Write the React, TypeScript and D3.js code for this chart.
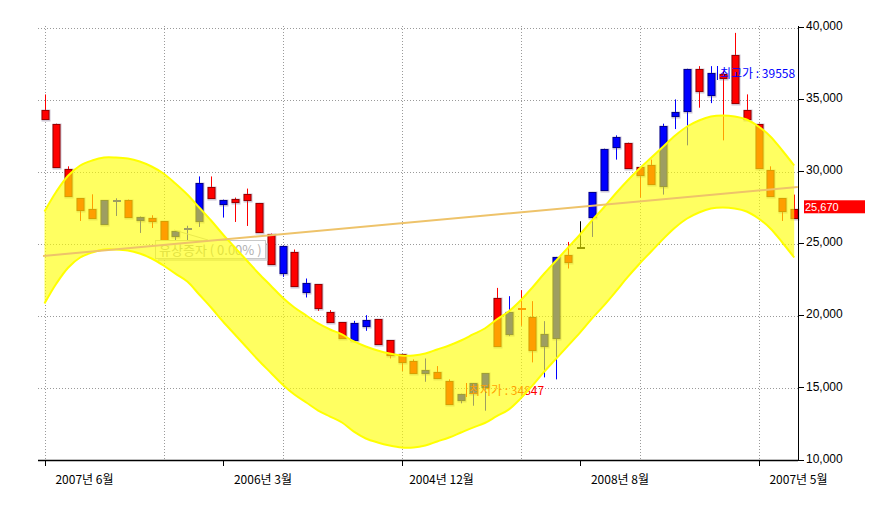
import React from "react";
import * as d3 from "d3";

// ---- data ----
const opens = [33564,30243,28236,27267,26762,27959,27990,26804,26832,26555,
  25240,25835,26050,29155,28146,28007,27820,27959,25766,23579,
  24825,22008,22263,20465,19496,18430,19468,19654,17973,17232,
  16770,16008,16217,15641,13820,14514,15275,15967,17877,20187,
  20420,17578,18665,24036,23690,24728,28534,31537,32339,30222,
  29689,29115,33101,34070,37073,35523,36768,36450,34692,33613,
  30222,28236,27218,26762];
const highs = [35294,33269,30312,28098,28374,27959,28098,28007,26832,26922,
  26527,25835,26195,29612,29612,28007,28146,28770,27774,25655,
  24825,24548,22540,22146,20347,19496,19607,20000,19724,18271,
  17281,16936,17000,16472,15552,14555,15275,15967,21889,21316,
  21731,20970,19586,24036,25074,26506,28534,31537,32457,31952,
  30263,30775,33267,34948,37073,37253,37253,36955,39558,35297,
  33267,30312,28118,28354];
const lows = [33564,30243,28236,26526,26762,26347,26872,26804,25697,26042,
  25240,25192,25192,26112,28146,26762,26458,26181,25766,23579,
  22651,22008,21226,20298,19496,18400,18271,18915,17973,17000,
  16126,16008,15385,15572,13820,13890,13726,13380,17877,18548,
  19260,16728,15690,15551,23233,24617,25420,28651,30776,30222,
  28146,29115,28354,32893,31765,34374,34692,32111,34692,33613,
  30222,28236,26527,26762];
const closes = [34187,33269,30104,28098,27336,26347,27940,28007,26596,26762,
  26527,25468,26000,26555,28880,27730,28077,28374,27774,25655,
  22928,24361,21571,22146,20229,19496,18271,19239,19724,18271,
  17281,16818,15988,16036,15434,14119,14583,15046,21221,18686,
  20465,19884,17877,18388,24153,24728,26804,28651,31648,31952,
  30263,30381,28949,33820,34118,37073,35274,36727,37993,34187,
  33267,30083,28118,27336];

const bandUpper = [27183,28569,29677,30370,30716,30924,30924,30855,30647,30301,
  29816,29123,28361,27460,26560,25590,24689,23788,22888,22056,
  21225,20532,19978,19424,19008,18662,18177,17830,17553,17345,
  17207,17207,17345,17623,17900,18246,18662,19077,19701,20255,
  21017,21918,22888,23788,24689,25590,26560,27460,28430,29331,
  30162,30924,31686,32448,33072,33488,33765,33834,33765,33557,
  33072,32379,31409,30370];
const bandLower = [20809,22195,23303,23996,24342,24550,24550,24481,24273,23927,
  23442,22873,22331,21430,20530,19560,18659,17758,16858,16026,
  15195,14502,13948,13394,12978,12562,11927,11456,11179,10971,
  10833,10833,10971,11249,11526,11872,12212,12527,13001,13455,
  14217,15118,16088,16988,17889,18790,19760,20660,21630,22631,
  23562,24424,25286,26074,26698,27114,27391,27460,27391,27183,
  26698,26005,25035,23996];

const trendIdx = [-0.12, 63.3];
const trendValues = [24100, 28880];

const yTicks = [10000, 15000, 20000, 25000, 30000, 35000, 40000];
const xTickIdx = [0, 15, 30, 45, 60];
const xTickLabels = ["2007년 6월", "2006년 3월", "2004년 12월", "2008년 8월", "2007년 5월"];
const gridIdx = [0, 10, 20, 30, 40, 50, 60];

const maxLabel = "최고가 : 39558";
const minLabel = "최저가 : 34847";
const eventLabel = "유상증자 ( 0.00% )";
const lastPrice = 25670;

const W = 893, H = 507;
const PLOT_L = 38, PLOT_R = 798, PLOT_T = 26, PLOT_B = 460;

export default function App() {
  const x = d3.scaleLinear().domain([0, 60]).range([44.5, 758.5]);
  const y = d3.scaleLinear().domain([10000, 40000]).range([459.5, 26.5]);
  const idx = d3.range(opens.length);

  const area = d3.area<number>()
    .x((i) => x(i))
    .y0((i) => y(bandLower[i]))
    .y1((i) => y(bandUpper[i]))
    .curve(d3.curveCatmullRom);
  const upperLine = d3.line<number>().x((i) => x(i)).y((i) => y(bandUpper[i])).curve(d3.curveCatmullRom);
  const lowerLine = d3.line<number>().x((i) => x(i)).y((i) => y(bandLower[i])).curve(d3.curveCatmullRom);

  const cjk = "'Noto Sans CJK KR', 'Noto Sans', sans-serif";
  const lat = "'Liberation Sans', Arial, sans-serif";

  const candles = idx.map((i) => {
    const o = opens[i], c = closes[i], h = highs[i], l = lows[i];
    const up = c > o, flat = c === o;
    const fill = flat ? "#000000" : up ? "#ff0000" : "#0000ff";
    const stroke = flat ? "#000000" : up ? "#9a0000" : "#000090";
    const cx = Math.round(x(i));
    const top = Math.round(y(Math.max(o, c)));
    const bot = Math.round(y(Math.min(o, c)));
    const bh = Math.max(bot - top, 1);
    return (
      <g key={i}>
        <line x1={cx + 0.5} x2={cx + 0.5} y1={y(h)} y2={y(l)} stroke={fill} strokeWidth={1} />
        {bh > 2 ? (
          <>
            <rect x={cx - 3.5} y={top - 0.5} width={9} height={bh + 3} fill="rgba(110,90,130,0.35)" />
            <rect x={cx - 3} y={top + 0.5} width={7} height={bh} fill={fill} stroke={stroke} strokeWidth={1} />
          </>
        ) : (
          <rect x={cx - 3} y={top} width={8} height={2} fill={fill} />
        )}
      </g>
    );
  });

  const lastY = y(closes[closes.length - 1]);

  return (
    <svg width={W} height={H} style={{ position: "absolute", left: 0, top: 0, background: "#fff" }}>
      <rect x={0} y={0} width={W} height={H} fill="#ffffff" />
      {/* grid */}
      {yTicks.filter((v) => v > 10000).map((v) => (
        <line key={"h" + v} x1={PLOT_L} x2={PLOT_R} y1={Math.round(y(v)) + 1.5} y2={Math.round(y(v)) + 1.5}
          stroke="#9a9a9a" strokeWidth={1} strokeDasharray="1 2" />
      ))}
      {gridIdx.map((g) => (
        <line key={"v" + g} x1={Math.round(x(g)) + 0.5} x2={Math.round(x(g)) + 0.5} y1={PLOT_T} y2={PLOT_B}
          stroke="#9a9a9a" strokeWidth={1} strokeDasharray="1 2" />
      ))}

      {/* candles */}
      {candles}

      {/* event box */}
      <line x1={174} y1={230} x2={208} y2={240} stroke="#c8c8c8" strokeWidth={1} />
      <rect x={158} y={243} width={110} height={18} fill="#bdbdbd" opacity={0.55} />
      <rect x={155.5} y={240.5} width={110} height={18} fill="#ffffff" stroke="#c8c8c8" strokeWidth={1} />
      <text x={159} y={255} fontFamily={cjk} fontSize={13} fill="#b0b0b0">{eventLabel}</text>

      {/* min label */}
      <line x1={466.5} x2={466.5} y1={383} y2={397} stroke="#ff0000" strokeWidth={1} />
      <text x={469} y={395} fontFamily={cjk} fontSize={12} fill="#ff0000">{minLabel}</text>

      {/* band */}
      <path d={area(idx) || ""} fill="#ffff00" fillOpacity={0.62} />
      <path d={upperLine(idx) || ""} fill="none" stroke="#ffff00" strokeWidth={2} />
      <path d={lowerLine(idx) || ""} fill="none" stroke="#ffff00" strokeWidth={2} />

      {/* trend line */}
      <line x1={x(trendIdx[0])} x2={x(trendIdx[1])} y1={y(trendValues[0])} y2={y(trendValues[1])}
        stroke="#eec36a" strokeWidth={2} />

      {/* max label */}
      <line x1={717.5} x2={717.5} y1={66} y2={80} stroke="#0000ff" strokeWidth={1} />
      <text x={720} y={78} fontFamily={cjk} fontSize={12} fill="#0000ff">{maxLabel}</text>

      {/* axes */}
      <line x1={PLOT_L} x2={PLOT_R} y1={PLOT_B + 0.5} y2={PLOT_B + 0.5} stroke="#000" strokeWidth={1.5} />
      <line x1={PLOT_R + 0.5} x2={PLOT_R + 0.5} y1={PLOT_T} y2={PLOT_B} stroke="#000" strokeWidth={1} />
      {yTicks.map((v) => (
        <g key={"yt" + v}>
          <line x1={PLOT_R} x2={PLOT_R + 6} y1={Math.round(y(v)) + 0.5} y2={Math.round(y(v)) + 0.5} stroke="#000" />
          <text x={806} y={y(v) - 1} dy="0.35em" fontFamily={lat} fontSize={12} fill="#000">
            {d3.format(",")(v)}
          </text>
        </g>
      ))}
      {xTickIdx.map((t, k) => (
        <g key={"xt" + t}>
          <line x1={Math.round(x(t)) + 0.5} x2={Math.round(x(t)) + 0.5} y1={PLOT_B} y2={PLOT_B + 6} stroke="#000" />
          <text x={x(t) + 40} y={484} textAnchor="middle" fontFamily={cjk} fontSize={12} fill="#000">
            {xTickLabels[k]}
          </text>
        </g>
      ))}

      {/* last price */}
      <rect x={804} y={lastY - 9} width={61} height={13} fill="#ff0000" />
      <text x={805} y={lastY - 2.5} dy="0.35em" fontFamily={lat} fontSize={11} fill="#ffffff">
        {d3.format(",")(lastPrice)}
      </text>
    </svg>
  );
}
